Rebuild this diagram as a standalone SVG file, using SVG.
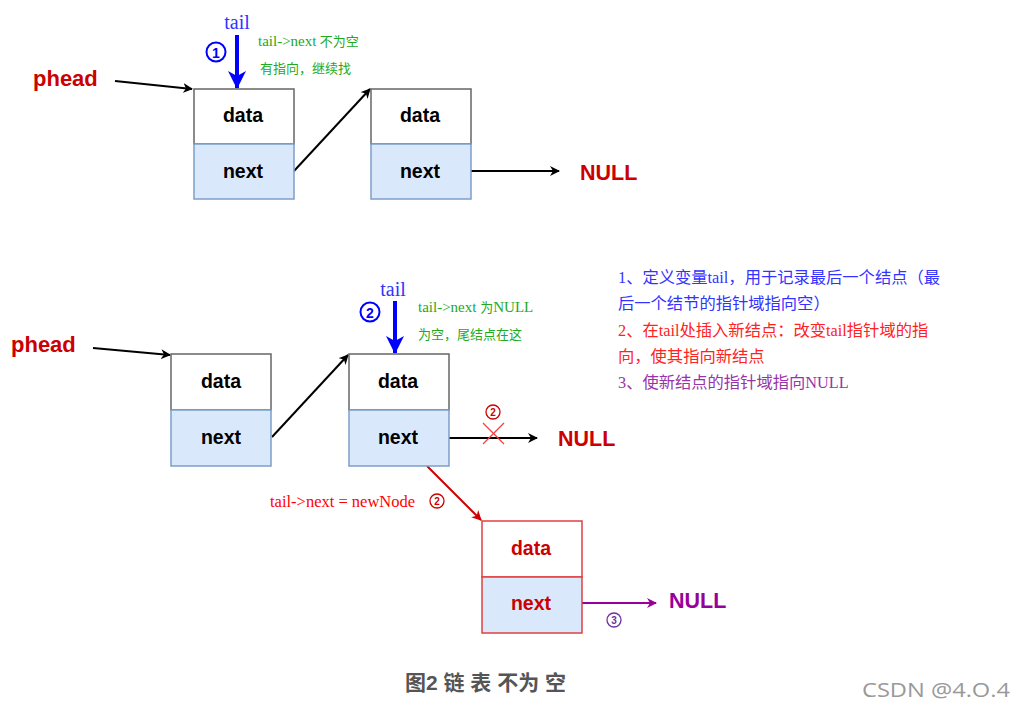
<svg xmlns="http://www.w3.org/2000/svg" width="1024" height="709" viewBox="0 0 1024 709">
<style>
.lbl{font-family:"Liberation Sans",Arial,sans-serif;font-weight:bold;font-size:19.5px;text-anchor:middle;fill:#000}
.top{fill:#fff;stroke:#666;stroke-width:1.5}
.bot{fill:#dae8fc;stroke:#7d9ec9;stroke-width:1.5}
.null{font-family:"Liberation Sans",Arial,sans-serif;font-weight:bold;font-size:21.5px;fill:#cc0000}
.ph{font-family:"Liberation Sans",Arial,sans-serif;font-weight:bold;font-size:22px;fill:#cc0000}
.tail{font-family:"Liberation Serif","Noto Sans CJK SC",serif;font-size:20px;fill:#3333ff;text-anchor:middle}
.green{font-family:"Liberation Serif","Noto Sans CJK SC",serif;font-size:13px;fill:#22aa22}
.lat{font-size:15px}
.cn{font-family:"Liberation Sans",Arial,sans-serif;font-weight:bold;text-anchor:middle}
.note{font-family:"Liberation Serif","Noto Sans CJK SC",serif;font-size:16.3px}
.blk{stroke:#000;stroke-width:2;fill:none}
</style>
<defs>
<marker id="ab" markerWidth="10" markerHeight="10" refX="9" refY="5" orient="auto" markerUnits="userSpaceOnUse"><path d="M0,0 L10,5 L0,10 L3,5 Z" fill="#000"/></marker>
<marker id="ar" markerWidth="10" markerHeight="10" refX="9" refY="5" orient="auto" markerUnits="userSpaceOnUse"><path d="M0,0 L10,5 L0,10 L3,5 Z" fill="#cc0000"/></marker>
<marker id="ap" markerWidth="10" markerHeight="10" refX="9" refY="5" orient="auto" markerUnits="userSpaceOnUse"><path d="M0,0 L10,5 L0,10 L3,5 Z" fill="#990099"/></marker>
<marker id="abl" markerWidth="20" markerHeight="20" refX="17" refY="10" orient="auto" markerUnits="userSpaceOnUse"><path d="M0,1 L18,10 L0,19 L5,10 Z" fill="#0000ff"/></marker>
</defs>

<g id="connectors">
<line class="blk" x1="115" y1="81" x2="192" y2="89" marker-end="url(#ab)"/>
<line class="blk" x1="294" y1="171" x2="370" y2="89" marker-end="url(#ab)"/>
<line class="blk" x1="471" y1="171" x2="559" y2="171" marker-end="url(#ab)"/>
<line x1="237" y1="35" x2="237" y2="88" stroke="#0000ff" stroke-width="4" marker-end="url(#abl)"/>
<line class="blk" x1="93" y1="348" x2="170" y2="355" marker-end="url(#ab)"/>
<line class="blk" x1="272" y1="437" x2="348" y2="355" marker-end="url(#ab)"/>
<line class="blk" x1="449" y1="438" x2="537" y2="438" marker-end="url(#ab)"/>
<line x1="395" y1="301" x2="395" y2="353" stroke="#0000ff" stroke-width="4" marker-end="url(#abl)"/>
<line x1="427" y1="466" x2="481" y2="520" stroke="#cc0000" stroke-width="2" marker-end="url(#ar)"/>
<line x1="582" y1="603" x2="656" y2="603" stroke="#990099" stroke-width="2" marker-end="url(#ap)"/>
<g stroke="#ee4444" stroke-width="1.3"><line x1="483" y1="423" x2="504" y2="444"/><line x1="504" y1="423" x2="483" y2="444"/></g>
</g>

<g id="node1">
<rect class="top" x="194" y="89" width="100" height="55"/>
<rect class="bot" x="194" y="144" width="100" height="55"/>
<text class="lbl" x="243" y="122">data</text>
<text class="lbl" x="243" y="178">next</text>
</g>
<g id="node2">
<rect class="top" x="371" y="89" width="100" height="55"/>
<rect class="bot" x="371" y="144" width="100" height="55"/>
<text class="lbl" x="420" y="122">data</text>
<text class="lbl" x="420" y="178">next</text>
</g>
<g id="node3">
<rect class="top" x="171" y="354" width="100" height="56"/>
<rect class="bot" x="171" y="410" width="100" height="56"/>
<text class="lbl" x="221" y="388">data</text>
<text class="lbl" x="221" y="444">next</text>
</g>
<g id="node4">
<rect class="top" x="349" y="354" width="100" height="56"/>
<rect class="bot" x="349" y="410" width="100" height="56"/>
<text class="lbl" x="398" y="388">data</text>
<text class="lbl" x="398" y="444">next</text>
</g>
<g id="node5">
<rect x="482" y="521" width="100" height="56" fill="#fff" stroke="#e04040" stroke-width="1.5"/>
<rect x="482" y="577" width="100" height="56" fill="#dae8fc" stroke="#e04040" stroke-width="1.5"/>
<text class="lbl" x="531" y="555" style="fill:#cc0000">data</text>
<text class="lbl" x="531" y="610" style="fill:#cc0000">next</text>
</g>

<g id="labels">
<text class="ph" x="33" y="86">phead</text>
<text class="ph" x="11" y="352">phead</text>
<text class="null" x="580" y="180">NULL</text>
<text class="null" x="558" y="446">NULL</text>
<text class="null" x="669" y="608" style="fill:#990099">NULL</text>
<text class="tail" x="237" y="29">tail</text>
<text class="tail" x="393" y="296">tail</text>

<g fill="none" stroke-width="2">
<circle cx="216" cy="52" r="9.5" stroke="#0000ff"/>
<circle cx="370" cy="312" r="9.5" stroke="#0000ff"/>
</g>
<g fill="none" stroke-width="1.3">
<circle cx="493" cy="412" r="7" stroke="#cc0000"/>
<circle cx="437" cy="501" r="7" stroke="#cc0000"/>
<circle cx="614" cy="620" r="7" stroke="#7030a0"/>
</g>
<text class="cn" x="216" y="57.5" font-size="14" fill="#0000ff">1</text>
<text class="cn" x="370" y="317.5" font-size="14" fill="#0000ff">2</text>
<text class="cn" x="493" y="416" font-size="10" fill="#cc0000">2</text>
<text class="cn" x="437" y="505" font-size="10" fill="#cc0000">2</text>
<text class="cn" x="614" y="624" font-size="10" fill="#7030a0">3</text>

<text class="green" x="258" y="46"><tspan class="lat">tail-&gt;next</tspan> 不为空</text>
<text class="green" x="260" y="73">有指向，继续找</text>
<text class="green" x="418" y="312"><tspan class="lat">tail-&gt;next  </tspan> 为<tspan class="lat">NULL</tspan></text>
<text class="green" x="418" y="339">为空，尾结点在这</text>
<text x="270" y="507" font-family="Liberation Serif,serif" font-size="16.5" fill="#ff0000">tail-&gt;next = newNode</text>
<text class="note" x="618" y="283" fill="#3333ff">1、定义变量tail，用于记录最后一个结点（最</text>
<text class="note" x="618" y="309" fill="#3333ff">后一个结节的指针域指向空）</text>
<text class="note" x="618" y="336" fill="#ff2222">2、在tail处插入新结点：改变tail指针域的指</text>
<text class="note" x="618" y="362" fill="#ff2222">向，使其指向新结点</text>
<text class="note" x="618" y="388" fill="#9933aa">3、使新结点的指针域指向NULL</text>
<text x="405" y="690" font-family="Liberation Sans,'Noto Sans CJK SC',sans-serif" font-weight="bold" font-size="21" fill="#555">图2 链 表 不为 空</text>
<text x="862" y="697" font-family="'Open Sans','Liberation Sans',sans-serif" font-size="20" fill="#999" textLength="148" lengthAdjust="spacingAndGlyphs">CSDN @4.O.4</text>
</g>
</svg>
